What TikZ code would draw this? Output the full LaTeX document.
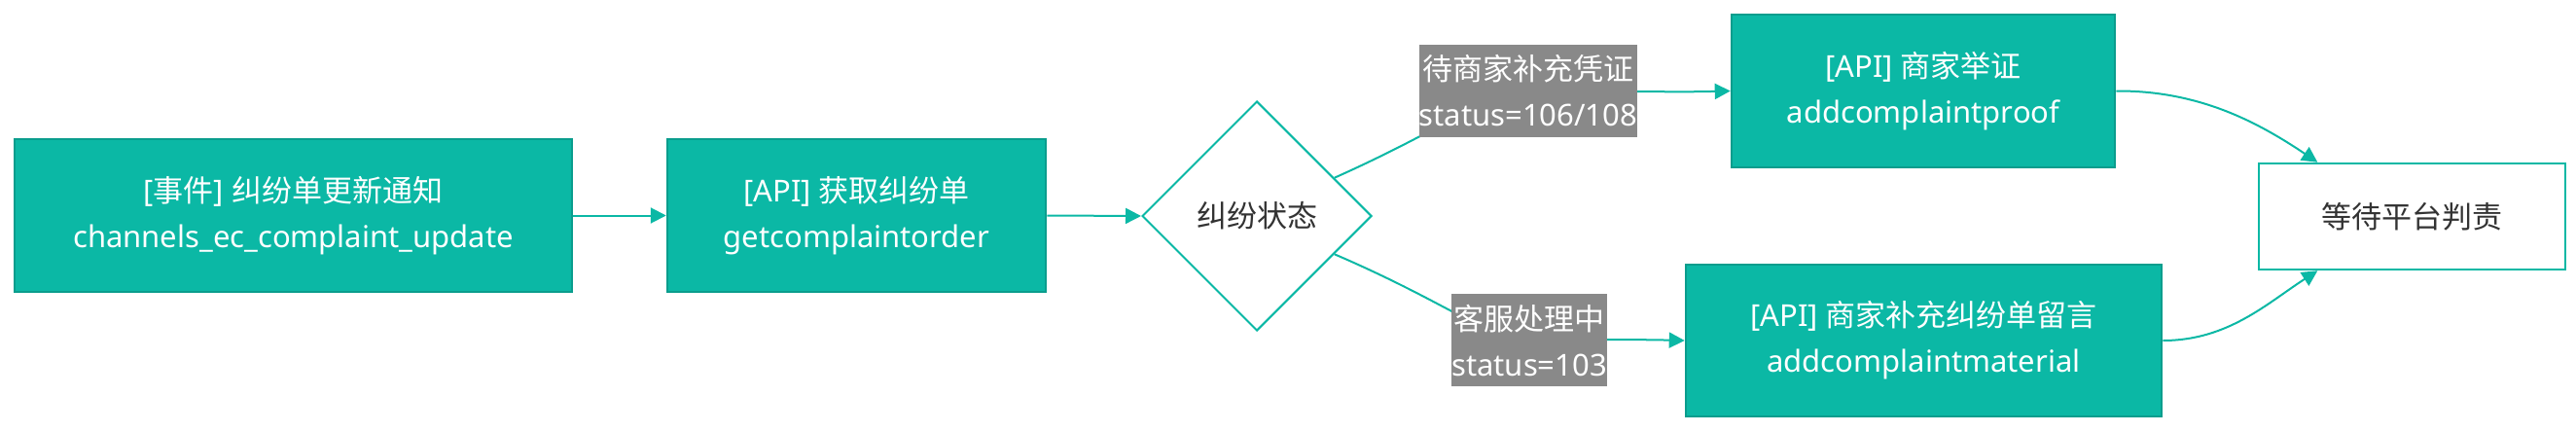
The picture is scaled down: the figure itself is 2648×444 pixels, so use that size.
\documentclass[tikz,border=0pt]{standalone}
\usepackage{fontspec}
\setmainfont{Noto Sans}
\newfontfamily\cjk{Noto Sans CJK SC}
\usetikzlibrary{shapes.geometric,arrows.meta,calc}
\definecolor{teal}{HTML}{0BB8A5}
\definecolor{tealdark}{HTML}{0A9D8D}
\definecolor{lblgrey}{HTML}{898989}
\definecolor{txtdark}{HTML}{333333}
\tikzset{
  txt/.style={font=\fontsize{31}{47}\selectfont, align=center, inner sep=0pt},
  apibox/.style={txt, rectangle, fill=teal, draw=tealdark, line width=2.5pt, text=white},
  endbox/.style={txt, rectangle, fill=white, draw=teal, line width=2.5pt, text=txtdark},
  decision/.style={txt, diamond, aspect=1, fill=white, draw=teal, line width=2pt, text=txtdark},
  elabel/.style={txt, rectangle, fill=lblgrey, text=white},
  conn/.style={draw=teal, line width=2pt, -{Triangle[length=16pt,width=16pt]}},
  connplain/.style={draw=teal, line width=2pt},
}
\begin{document}
\begin{tikzpicture}[x=1pt,y=-1pt]
\useasboundingbox (0,0) rectangle (2648,444);
\node[apibox, minimum width=573pt, minimum height=157pt] (b1) at (301.5,221.5)
  {[{\cjk 事件}] {\cjk 纠纷单更新通知}\\channels\_ec\_complaint\_update};
\node[apibox, minimum width=389pt, minimum height=157pt] (b2) at (880.5,221.5)
  {[API] {\cjk 获取纠纷单}\\getcomplaintorder};
\node[decision, minimum width=236pt, minimum height=236pt] (d) at (1292,222)
  {\cjk 纠纷状态};
\node[apibox, minimum width=394pt, minimum height=157pt] (b3) at (1977,93.5)
  {[API] {\cjk 商家举证}\\addcomplaintproof};
\node[apibox, minimum width=489pt, minimum height=156pt] (b4) at (1977.5,350)
  {[API] {\cjk 商家补充纠纷单留言}\\addcomplaintmaterial};
\node[endbox, minimum width=315pt, minimum height=109pt] (b5) at (2479.5,222.5)
  {\cjk 等待平台判责};

\coordinate (dup) at ($(d.east)!0.33!(d.north)$);
\coordinate (ddn) at ($(d.east)!0.33!(d.south)$);
\coordinate (l1c) at (1571,93.5);
\coordinate (l2c) at (1572,349.5);
\coordinate (b5top) at ($(b5.north west)!0.194!(b5.north east)$);
\coordinate (b5bot) at ($(b5.south west)!0.194!(b5.south east)$);

\draw[conn] (b1.east) -- (b2.west);
\draw[conn] (b2.east) -- (d.west);
\draw[connplain] (dup) .. controls (1490,130) and (1530,94) .. (l1c);
\draw[conn] (l1c) .. controls (1680,93.5) and (1720,95) .. (b3.west);
\draw[connplain] (ddn) .. controls (1490,312) and (1530,349) .. (l2c);
\draw[conn] (l2c) .. controls (1660,349) and (1690,349) .. (b4.west);
\draw[conn] (b3.east) .. controls (2260,93) and (2320,125) .. (b5top);
\draw[conn] (b4.east) .. controls (2290,350) and (2330,312) .. (b5bot);

\node[elabel, minimum width=224pt, minimum height=95pt] (l1) at (l1c)
  {{\cjk 待商家补充凭证}\\status=106/108};
\node[elabel, minimum width=160pt, minimum height=95pt] (l2) at (l2c)
  {{\cjk 客服处理中}\\status=103};
\end{tikzpicture}
\end{document}
